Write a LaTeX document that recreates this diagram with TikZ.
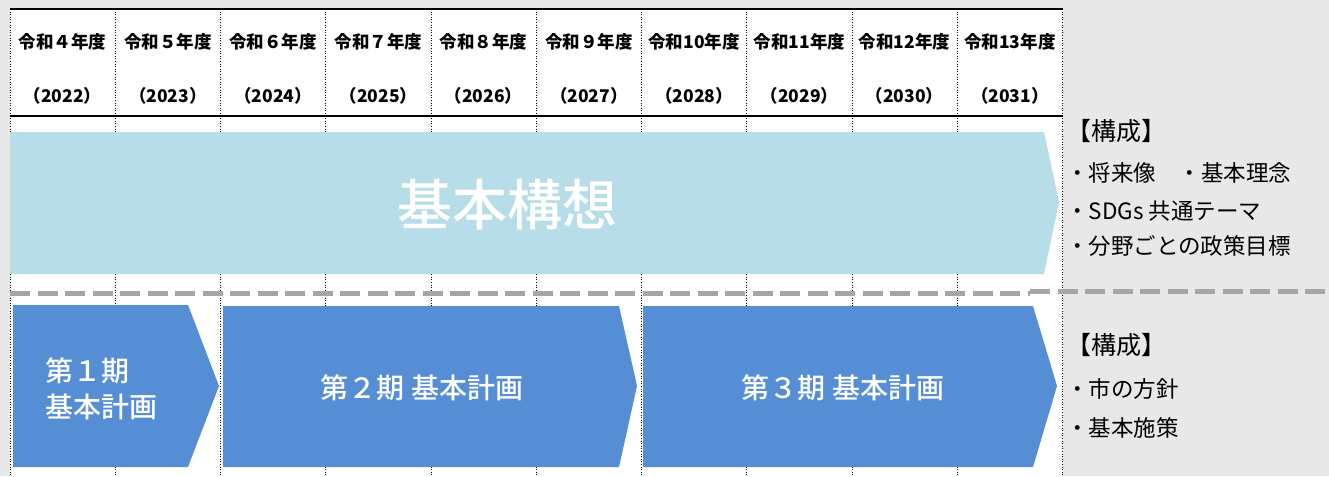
\documentclass[tikz,border=0pt]{standalone}
\usepackage{fontspec}
\setmainfont{Noto Sans CJK JP}
\newfontfamily\medfont{Noto Sans CJK JP Medium}
\usetikzlibrary{calc}
\definecolor{bggray}{HTML}{E8E8E8}
\definecolor{lightblue}{HTML}{B7DEE8}
\definecolor{planblue}{HTML}{558ED5}
\definecolor{dashgray}{HTML}{A6A6A6}
\tikzset{
  hdr/.style={font=\bfseries\fontsize{17.5}{19}\selectfont, text=black, inner sep=0pt, anchor=center},
  grid/.style={black, line width=0.6pt, dotted},
  rule/.style={black, line width=2pt},
  plan/.style={fill=planblue, draw=none},
  plantext/.style={text=white, font=\medfont\fontsize{28}{36}\selectfont, inner sep=0pt},
  side/.style={font=\fontsize{22.5}{25}\selectfont, text=black, inner sep=0pt, anchor=west},
  sidehead/.style={font=\fontsize{25}{27}\selectfont, text=black, inner sep=0pt, anchor=west},
  sep/.style={dashgray, line width=5pt, dash pattern=on 20pt off 7.5pt}
}
\begin{document}
\begin{tikzpicture}[x=1pt,y=-1pt]
\useasboundingbox (0,0) rectangle (1329,476);
\fill[bggray] (0,0) rectangle (1329,476);
\fill[white] (10,9) rectangle (1062.5,476);
% vertical dotted grid lines
\foreach \i in {0,...,10} {
  \draw[grid] ({10+105.25*\i},9) -- ({10+105.25*\i},476);
}
% horizontal rules
\draw[rule] (10,9) -- (1062.5,9);
\draw[rule] (10,116.5) -- (1062.5,116.5);
% header labels
\foreach \lab/\yr [count=\i from 0] in {令和４年度/2022,令和５年度/2023,令和６年度/2024,令和７年度/2025,令和８年度/2026,令和９年度/2027,令和10年度/2028,令和11年度/2029,令和12年度/2030,令和13年度/2031} {
  \node[hdr] (h\i) at ({62.6+105.25*\i},42) {\lab};
  \node[hdr] (y\i) at ({62.6+105.25*\i},96) {（\yr）};
}
% 基本構想 arrow
\fill[lightblue] (10,132) -- (1044,132) -- (1059,202) -- (1044,274) -- (10,274) -- cycle;
\node[text=white, font=\medfont\fontsize{55}{58}\selectfont, inner sep=0pt] (kousou) at (507,205) {基本構想};
% separator
\draw[sep] (10,293) -- (1030,293);
\draw[sep] (1030,291) -- (1329,291);
% plan arrows
\fill[plan] (13,305) -- (188,305) -- (219,386) -- (188,467) -- (13,467) -- cycle;
\fill[plan] (223,306) -- (619,306) -- (637,386) -- (619,467) -- (223,467) -- cycle;
\fill[plan] (643,306) -- (1033,306) -- (1057,386) -- (1033,467) -- (643,467) -- cycle;
\node[plantext, anchor=west, align=left] (p1) at (45,389) {第１期\\[0pt]基本計画};
\node[plantext] (p2) at (422,388) {第２期 基本計画};
\node[plantext] (p3) at (843,388) {第３期 基本計画};
% side notes
\node[sidehead] (s1) at (1066,131) {【構成】};
\node[side] (s2) at (1066,173) {・将来像　・基本理念};
\node[side] (s3) at (1066,211) {・SDGs 共通テーマ};
\node[side] (s4) at (1066,246) {・分野ごとの政策目標};
\node[sidehead] (t1) at (1066,345) {【構成】};
\node[side] (t2) at (1066,389) {・市の方針};
\node[side] (t3) at (1066,428) {・基本施策};
\end{tikzpicture}
\end{document}
